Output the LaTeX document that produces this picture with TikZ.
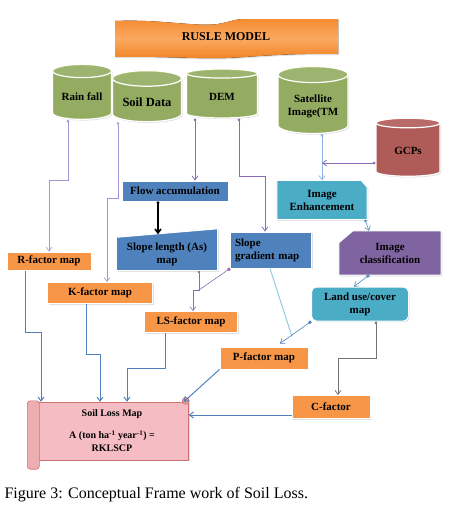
\documentclass[tikz,border=0pt]{standalone}
\usepackage{fontspec}
\setmainfont{Liberation Serif}
\usetikzlibrary{shapes.geometric,arrows.meta,backgrounds,shadows}

\definecolor{cgreen}{HTML}{9BBB59}
\definecolor{cgreentop}{HTML}{A8C66B}
\definecolor{cred}{HTML}{C0504D}
\definecolor{credtop}{HTML}{CB6461}
\definecolor{corange}{HTML}{F79646}
\definecolor{bantop}{HTML}{F58C32}
\definecolor{banmid}{HTML}{FBA860}
\definecolor{banbot}{HTML}{F08424}
\definecolor{cblue}{HTML}{4F81BD}
\definecolor{ccyan}{HTML}{4BACC6}
\definecolor{cpurple}{HTML}{8064A2}
\definecolor{cpink}{HTML}{F5BDC3}
\definecolor{lilac}{HTML}{A592D4}
\definecolor{violetline}{HTML}{8A6BB8}
\definecolor{satline}{HTML}{8DB3E2}
\definecolor{skyline}{HTML}{92CDDC}
\definecolor{lossline}{HTML}{4F81BD}

\begin{document}
\begin{tikzpicture}[x=1pt,y=-1pt,
    every node/.style={font=\bfseries\fontsize{11}{13}\selectfont},
    softshadow/.style={drop shadow={opacity=0.25,shadow xshift=1.2pt,shadow yshift=-1.2pt}},
    db/.style={cylinder,shape border rotate=90,aspect=0.28,draw=white,line width=1.2pt,
        cylinder uses custom fill,cylinder body fill=cgreen,cylinder end fill=cgreentop,
        softshadow,align=center},
    factor/.style={fill=corange,draw=white,line width=1pt,softshadow},
    bluebox/.style={fill=cblue,draw=white,line width=1pt,softshadow},
    tip/.style={-{Straight Barb[length=4pt,width=6pt]}},
    dot/.style={{Circle[length=2.6pt]}-{Straight Barb[length=4pt,width=6pt]}},
    sqr/.style={{Square[length=2.6pt]}-{Straight Barb[length=4pt,width=6pt]}},
    dataline/.style={dot,draw=lilac,line width=0.6pt},
    demline/.style={dot,draw=violetline,line width=0.8pt},
    lossarrow/.style={tip,draw=lossline,line width=1pt}]

\useasboundingbox (0,0) rectangle (452,515);

% banner
\node[font=\bfseries\fontsize{12}{14}\selectfont] (rusle) at (226,37) {RUSLE MODEL};

% data sources
\node[db,minimum width=59,minimum height=55] (rain) at (82,97) {Rain fall};
\node[db,minimum width=69,minimum height=51,font=\bfseries\fontsize{12.5}{14}\selectfont] (soil) at (147,102) {Soil Data};
\node[db,minimum width=71,minimum height=49] (dem) at (222,97) {DEM};
\node[db,minimum width=70,minimum height=67] (sat) at (313,106) {Satellite\\Image(TM};
\node[db,minimum width=64,minimum height=58,cylinder body fill=cred,cylinder end fill=credtop] (gcp) at (408,151) {GCPs};

% processing
\node[bluebox,minimum width=106,minimum height=20] (flow) at (175,191) {Flow accumulation};
\node[minimum width=101,minimum height=33,align=center] (slen) at (167,254) {Slope length (As)\\map};
\node[bluebox,minimum width=81,minimum height=36,align=left,text width=72] (sgrad) at (271,250) {Slope\\gradient map};
\node[minimum width=90,minimum height=39,align=center] (enh) at (322,200) {Image\\Enhancement};
\node[minimum width=102,minimum height=44,align=center] (cls) at (390,253) {Image\\classification};
\node[fill=ccyan,draw=white,line width=1pt,rounded corners=5pt,softshadow,minimum width=97,minimum height=34,align=center] (land) at (360,304) {Land use/cover\\map};

% factor maps
\node[factor,minimum width=84,minimum height=18] (rfac) at (49,261) {R-factor map};
\node[factor,minimum width=105,minimum height=21] (kfac) at (100,293) {K-factor map};
\node[factor,minimum width=93,minimum height=21] (lsfac) at (191,322) {LS-factor map};
\node[factor,minimum width=88,minimum height=22] (pfac) at (264,358) {P-factor map};
\node[factor,minimum width=78,minimum height=23] (cfac) at (331,407) {C-factor};

% result
\node[minimum width=153,minimum height=58,align=center,font=\bfseries\fontsize{10}{13}\selectfont] (loss) at (112,431)
    {Soil Loss Map\\[9pt] A (ton ha\textsuperscript{-1} year\textsuperscript{-1}) =\\RKLSCP};

\node[anchor=base west,font=\fontsize{16}{18}\selectfont] (caption) at (1,498) {Figure 3: Conceptual Frame work of Soil Loss.};

\begin{scope}[on background layer]
    \fill[softshadow,top color=bantop,bottom color=banbot,middle color=banmid]
        (115,21) .. controls (160,19) and (195,27) .. (218,24) .. controls (230,22) and (234,19) .. (246,19)
        -- (338,19) -- (338,54) .. controls (285,53) and (252,57) .. (226,58) .. controls (200,59) and (160,56) .. (115,57) -- cycle;
    \filldraw[softshadow,fill=cblue,draw=white,line width=1pt] (slen.south west) -- (slen.north west) -- ([yshift=8.5pt]slen.north east) -- (slen.south east) -- cycle;
    \filldraw[softshadow,fill=ccyan,draw=white,line width=1pt] (enh.south west) -- (enh.north west) -- ([xshift=-6pt]enh.north east) -- ([yshift=-7pt]enh.north east) -- (enh.south east) -- cycle;
    \filldraw[softshadow,fill=cpurple,draw=white,line width=1pt] (cls.south west) -- ([yshift=-12pt]cls.north west) -- ([xshift=14pt]cls.north west) -- (cls.north east) -- (cls.south east) -- cycle;
    % scroll
    \filldraw[fill=cpink,draw=cred!80,line width=0.6pt,softshadow] (loss.south west) rectangle (loss.north east);
    \filldraw[fill=cpink!85!cred,draw=cred!80,line width=0.6pt,rounded corners=3pt] ([xshift=-8pt,yshift=1pt]loss.north west) rectangle ([xshift=4pt,yshift=-9pt]loss.south west);
    \filldraw[fill=cpink!70!cred,draw=cred!80,line width=0.6pt] ([xshift=-3pt,yshift=1pt]loss.north east) circle (3.5);
\end{scope}

% inputs to maps
\draw[dataline] ([xshift=-14pt]rain.south) -- ++(0,60) -| (rfac.north);
\draw[dataline] ([xshift=-29pt]soil.south) -- ++(0,76) -| ([xshift=7pt]kfac.north);
\coordinate (demout) at ([xshift=-27pt]dem.south);
\draw[demline] (demout) -- (demout |- flow.north);
\draw[demline] ([xshift=17pt]dem.south) -- ++(0,58) -| ([xshift=-6pt]sgrad.north);
\coordinate (satout) at ([xshift=9pt]sat.south);
\draw[dot,draw=satline,line width=0.8pt] (satout) -- (satout |- enh.north);
\coordinate (gcpout) at ([yshift=-12pt]gcp.west);
\draw[dot,draw=violetline,line width=0.8pt] (gcpout) -- (gcpout -| satout);
\coordinate (flowout) at ([xshift=-17pt]flow.south);
\draw[dot,draw=black,line width=1.6pt,shorten >=3pt] (flowout) -- (flowout |- slen.north);
\draw[dot,draw=cblue!70!ccyan,line width=0.6pt] ([xshift=43pt]enh.south) -- ([xshift=-21pt]cls.north);
\draw[sqr,draw=cblue!70!ccyan,line width=0.6pt] ([xshift=-21pt]cls.south) -- ([xshift=-6pt]land.north);

% LS factor
\coordinate (lsjoin) at (199,290);
\draw[dot,draw=violetline,line width=0.6pt] ([xshift=32pt]slen.south) -- (lsjoin) -| ([xshift=2pt]lsfac.north);
\draw[{Square[length=2.6pt]}-,draw=violetline,line width=0.6pt] (sgrad.south west) -- (lsjoin);

% P and C factor
\draw[skyline,line width=1pt] ([xshift=-1pt]sgrad.south) -- ([xshift=28pt,yshift=10pt]pfac.north);
\draw[sqr,draw=cblue,line width=0.6pt] (land.south west) -- ([xshift=16pt,yshift=3pt]pfac.north);
\draw[dot,draw=black!55,line width=0.8pt] ([xshift=16pt]land.south) -- ++(0,37) -| ([xshift=7pt]cfac.north);

% into soil loss
\draw[lossarrow] ([xshift=-24pt]rfac.south) -- ++(0,62) -| ([xshift=-71pt]loss.north);
\draw[lossarrow] ([xshift=-14pt]kfac.south) -- ++(0,50) -| ([xshift=-12pt]loss.north);
\draw[lossarrow] ([xshift=-26pt]lsfac.south) -- ++(0,35) -| ([xshift=15pt]loss.north);
\draw[lossarrow] (pfac.south west) -- ([xshift=-5pt]loss.north east);
\coordinate (cout) at ([yshift=-8pt]cfac.west);
\draw[lossarrow] (cout) -- (cout -| loss.east);
\end{tikzpicture}
\end{document}
